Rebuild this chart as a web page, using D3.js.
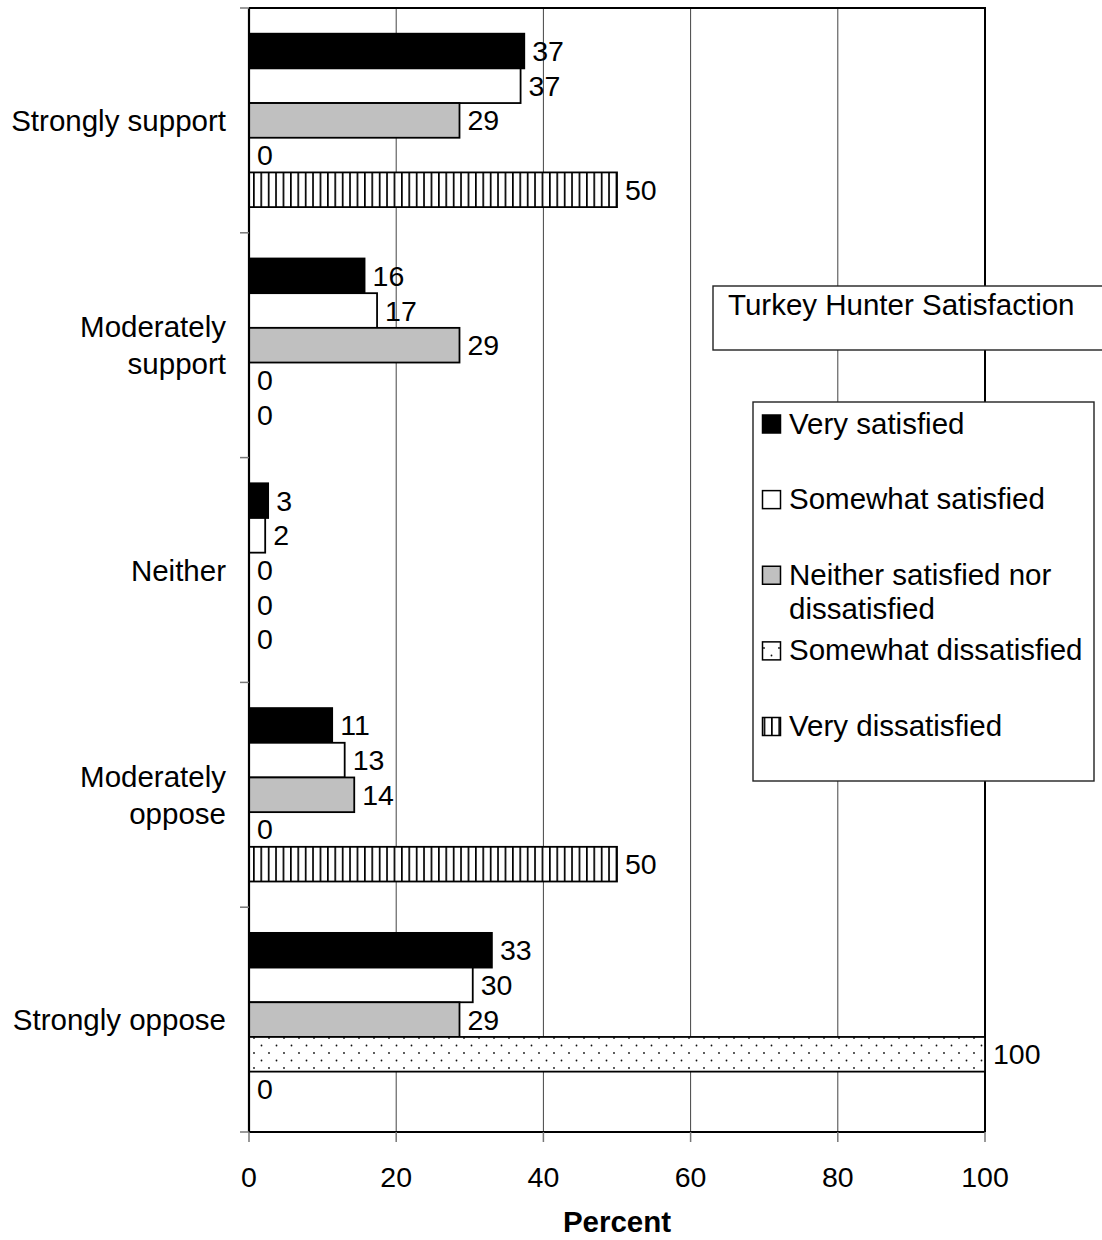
<!DOCTYPE html>
<html>
<head>
<meta charset="utf-8">
<script src="https://cdn.jsdelivr.net/npm/d3@7"></script>
<style>
  html, body { margin: 0; padding: 0; background: #fff; }
  svg text { font-family: "Liberation Sans", Arial, Helvetica, sans-serif; fill: #000; }
</style>
</head>
<body>
<svg id="chart" width="1102" height="1240"></svg>
<script>
// ---- data ----
const categories = ["Strongly support", "Moderately support", "Neither", "Moderately oppose", "Strongly oppose"];
const categoryLines = [["Strongly support"], ["Moderately", "support"], ["Neither"], ["Moderately", "oppose"], ["Strongly oppose"]];
const seriesNames = ["Very satisfied", "Somewhat satisfied", "Neither satisfied nor dissatisfied", "Somewhat dissatisfied", "Very dissatisfied"];
const legendLines = [["Very satisfied"], ["Somewhat satisfied"], ["Neither satisfied nor", "dissatisfied"], ["Somewhat dissatisfied"], ["Very dissatisfied"]];
const verySatisfied = [37.4, 15.7, 2.6, 11.3, 33.0];
const somewhatSatisfied = [36.9, 17.4, 2.2, 13.0, 30.4];
const neitherSatisfied = [28.6, 28.6, 0, 14.3, 28.6];
const somewhatDissatisfied = [0, 0, 0, 0, 100];
const veryDissatisfied = [50, 0, 0, 50, 0];
const xTicks = [0, 20, 40, 60, 80, 100];
const legendTitle = "Turkey Hunter Satisfaction";
const xTitle = "Percent";

const seriesValues = [verySatisfied, somewhatSatisfied, neitherSatisfied, somewhatDissatisfied, veryDissatisfied];
const fills = ["#000000", "#ffffff", "#c0c0c0", "url(#dots)", "url(#stripes)"];

// ---- layout ----
const svg = d3.select("#chart");
const plot = { left: 249, right: 985, top: 8, bottom: 1132 };

const x = d3.scaleLinear().domain([0, 100]).range([plot.left, plot.right]);
const y = d3.scaleBand().domain(categories).range([plot.top, plot.bottom]).padding(0);
const bw = y.bandwidth();
const pad = bw * 0.1143;
const ys = d3.scaleBand().domain(seriesNames).range([pad, bw - pad]).padding(0);

// patterns
const defs = svg.append("defs");
const stripes = defs.append("pattern").attr("id", "stripes").attr("patternUnits", "userSpaceOnUse")
  .attr("width", 7.4).attr("height", 10).attr("x", plot.left + 4);
stripes.append("rect").attr("width", 7.4).attr("height", 10).attr("fill", "#fff");
stripes.append("rect").attr("x", 0).attr("width", 1.7).attr("height", 10).attr("fill", "#000");
const dots = defs.append("pattern").attr("id", "dots").attr("patternUnits", "userSpaceOnUse")
  .attr("width", 15).attr("height", 15).attr("x", plot.left).attr("y", 0);
dots.append("rect").attr("width", 15).attr("height", 15).attr("fill", "#fff");
dots.append("circle").attr("cx", 5).attr("cy", 3).attr("r", 0.9).attr("fill", "#111");
dots.append("circle").attr("cx", 12.5).attr("cy", 10.5).attr("r", 0.9).attr("fill", "#111");

// gridlines
svg.append("g").selectAll("line").data(xTicks.slice(1, -1)).join("line")
  .attr("x1", d => x(d)).attr("x2", d => x(d))
  .attr("y1", plot.top).attr("y2", plot.bottom)
  .attr("stroke", "#444").attr("stroke-width", 1);

// frame (top + right)
svg.append("path")
  .attr("d", `M${plot.left},${plot.top}H${plot.right}V${plot.bottom}`)
  .attr("fill", "none").attr("stroke", "#000").attr("stroke-width", 2);

// bars
const rows = [];
categories.forEach((c, ci) => {
  seriesNames.forEach((s, si) => {
    rows.push({ c, s, si, v: seriesValues[si][ci] });
  });
});
const g = svg.append("g");
g.selectAll("rect").data(rows.filter(d => d.v > 0)).join("rect")
  .attr("x", x(0))
  .attr("y", d => y(d.c) + ys(d.s))
  .attr("width", d => x(d.v) - x(0))
  .attr("height", ys.bandwidth())
  .attr("fill", d => fills[d.si])
  .attr("stroke", "#000").attr("stroke-width", 1.8);

// value labels
const fmt = d3.format(".0f");
g.selectAll("text").data(rows).join("text")
  .attr("x", d => x(d.v) + 8)
  .attr("y", d => y(d.c) + ys(d.s) + ys.bandwidth() / 2 + 10)
  .attr("font-size", 28.5)
  .text(d => fmt(d.v));

// axes lines
svg.append("line").attr("x1", plot.left).attr("x2", plot.left).attr("y1", plot.top).attr("y2", plot.bottom)
  .attr("stroke", "#000").attr("stroke-width", 2.2);
svg.append("line").attr("x1", plot.left).attr("x2", plot.right).attr("y1", plot.bottom).attr("y2", plot.bottom)
  .attr("stroke", "#000").attr("stroke-width", 2.2);

// y ticks at band boundaries
const yBounds = categories.map(c => y(c)).concat([plot.bottom]);
svg.append("g").selectAll("line").data(yBounds).join("line")
  .attr("x1", plot.left - 9).attr("x2", plot.left)
  .attr("y1", d => d).attr("y2", d => d)
  .attr("stroke", "#777").attr("stroke-width", 1.5);

// x ticks
svg.append("g").selectAll("line").data(xTicks).join("line")
  .attr("x1", d => x(d)).attr("x2", d => x(d))
  .attr("y1", plot.bottom).attr("y2", plot.bottom + 10)
  .attr("stroke", "#777").attr("stroke-width", 1.5);
svg.append("g").selectAll("text").data(xTicks).join("text")
  .attr("x", d => x(d)).attr("y", 1187)
  .attr("text-anchor", "middle").attr("font-size", 28.5)
  .text(d => d);

// x title
svg.append("text").attr("x", (plot.left + plot.right) / 2).attr("y", 1232)
  .attr("text-anchor", "middle").attr("font-size", 29.5).attr("font-weight", "bold")
  .text(xTitle);

// category labels
const catG = svg.append("g");
categories.forEach((c, ci) => {
  const lines = categoryLines[ci];
  const cy = y(c) + bw / 2;
  const lh = 37;
  lines.forEach((ln, li) => {
    catG.append("text")
      .attr("x", 226).attr("text-anchor", "end")
      .attr("y", cy + (li - (lines.length - 1) / 2) * lh + 10.5)
      .attr("font-size", 29.5)
      .text(ln);
  });
});

// legend title box
svg.append("rect").attr("x", 713).attr("y", 286).attr("width", 400).attr("height", 64)
  .attr("fill", "#fff").attr("stroke", "#222").attr("stroke-width", 1.4);
svg.append("text").attr("x", 728).attr("y", 315).attr("font-size", 29.5).text(legendTitle);

// legend box
const lg = svg.append("g");
lg.append("rect").attr("x", 753).attr("y", 402).attr("width", 341).attr("height", 379)
  .attr("fill", "#fff").attr("stroke", "#222").attr("stroke-width", 1.4);
const legendBase = d3.scalePoint().domain(seriesNames).range([433.5, 736]);
seriesNames.forEach((s, si) => {
  const b = legendBase(s);
  lg.append("rect").attr("x", 762.5).attr("y", b - 18.5).attr("width", 18).attr("height", 18)
    .attr("fill", fills[si]).attr("stroke", "#000").attr("stroke-width", 1.5);
  legendLines[si].forEach((ln, li) => {
    lg.append("text").attr("x", 789).attr("y", b + li * 34).attr("font-size", 29.5).text(ln);
  });
});
</script>
</body>
</html>
